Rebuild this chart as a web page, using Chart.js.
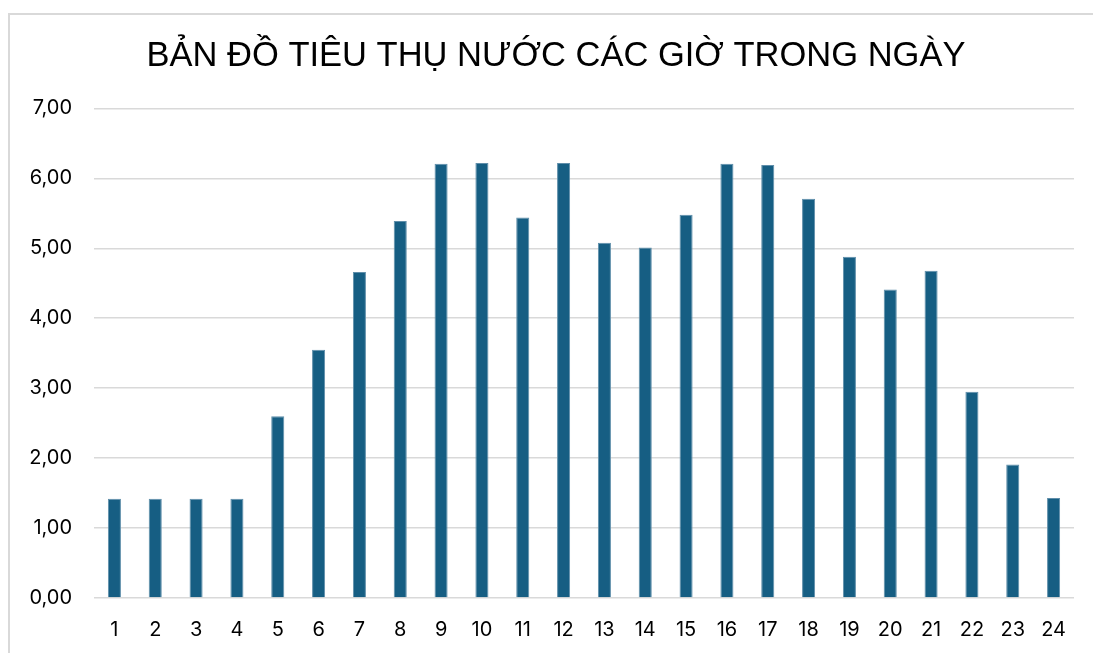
<!DOCTYPE html>
<html>
<head>
<meta charset="utf-8">
<script src="https://cdn.jsdelivr.net/npm/chart.js@4/dist/chart.umd.min.js"></script>
<style>
  html, body { margin: 0; padding: 0; background: #fff; }
  #frame {
    position: absolute; left: 8px; top: 13px;
    width: 1085px; height: 640px;
    border-left: 2px solid #d9d9d9; border-top: 2px solid #d9d9d9;
  }
  #chartBox { position: absolute; left: 0; top: 0; width: 1083px; height: 638px; }
</style>
</head>
<body>
<div id="frame"><div id="chartBox"><canvas id="waterChart"></canvas></div></div>
<script>
// hours of the day
const hours = ['1', '2', '3', '4', '5', '6', '7', '8', '9', '10', '11', '12',
               '13', '14', '15', '16', '17', '18', '19', '20', '21', '22', '23', '24'];
// water use per hour
const usage = [1.42, 1.42, 1.42, 1.42, 2.60, 3.55, 4.66, 5.39, 6.21, 6.22, 5.44, 6.22,
               5.08, 5.01, 5.48, 6.21, 6.19, 5.71, 4.88, 4.41, 4.68, 2.95, 1.91, 1.43];
const yTicks = [0, 1, 2, 3, 4, 5, 6, 7];

const titleFont = '"Liberation Sans", Arial, sans-serif';
const tickFont = 'Inter, "Liberation Sans", sans-serif';

new Chart(document.getElementById('waterChart'), {
    type: 'bar',
    data: {
        labels: hours,
        datasets: [{
            data: usage,
            backgroundColor: '#165e83',
            borderColor: '#5f8eaa',
            borderWidth: 1,
            barPercentage: 0.32,
            categoryPercentage: 1
        }]
    },
    options: {
        responsive: true,
        maintainAspectRatio: false,
        animation: false,
        layout: { padding: { left: 9, right: 0, top: 0, bottom: 0 } },
        plugins: {
            legend: { display: false },
            tooltip: { enabled: false },
            title: {
                display: true,
                text: 'BẢN ĐỒ TIÊU THỤ NƯỚC CÁC GIỜ TRONG NGÀY',
                color: '#000',
                font: { family: titleFont, size: 34.5, weight: 'normal' },
                padding: { top: 21, bottom: 31 }
            }
        },
        scales: {
            x: {
                grid: { display: false, drawTicks: false },
                border: { display: false },
                ticks: { color: '#000', padding: 20, font: { family: tickFont, size: 20 } },
                afterFit: s => { s.height = 55; }
            },
            y: {
                min: 0,
                max: 7,
                afterBuildTicks: s => { s.ticks = yTicks.map(v => ({ value: v })); },
                grid: { color: '#d9d9d9', lineWidth: 1.5, drawTicks: false },
                border: { display: false },
                ticks: {
                    color: '#000',
                    padding: 22,
                    font: { family: tickFont, size: 20 },
                    callback: v => v.toFixed(2).replace('.', ',')
                },
                afterFit: s => { s.width = 75; }
            },
            // empty spacer on the right
            yRight: {
                position: 'right',
                display: true,
                grid: { display: false, drawTicks: false },
                border: { display: false },
                ticks: { display: false },
                afterFit: s => { s.width = 19; }
            }
        }
    }
});
</script>
</body>
</html>
